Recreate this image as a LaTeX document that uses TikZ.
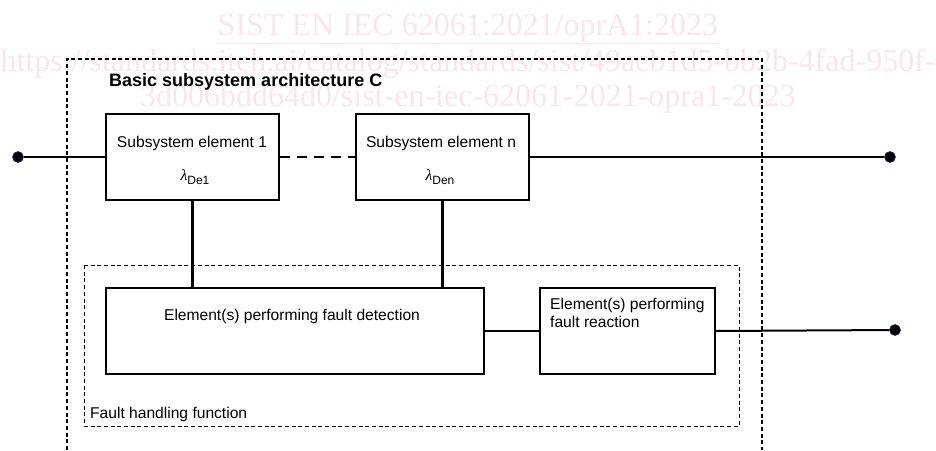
\documentclass[tikz,border=0pt]{standalone}
\usepackage{fontspec}
\setmainfont{Liberation Sans}
\newfontfamily\wmserif{Liberation Serif}
\usepackage{tikz}
\definecolor{wmpink}{RGB}{251,229,236}
\definecolor{dotblue}{RGB}{25,45,110}
\newcommand\ratelam[1]{{\wmserif\itshape λ}\raisebox{-4pt}{\fontsize{12}{12}\selectfont #1}}

\begin{document}
\begin{tikzpicture}[x=1pt,y=-1pt,
  box/.style={draw,line width=2.2pt,inner sep=0pt,minimum width=173pt,minimum height=86pt},
  wire/.style={line width=2.2pt},
  frame/.style={line width=1.1pt,dash pattern=on 4pt off 2.7pt},
  lbl/.style={inner sep=0pt,font=\fontsize{15.6}{18}\selectfont},
  pin/.style={circle,fill=black,draw=dotblue,line width=0.6pt,inner sep=0pt,minimum size=11pt},
  wm/.style={inner sep=0pt,text=wmpink,font=\wmserif\fontsize{32}{36}\selectfont}]
\useasboundingbox (0,0) rectangle (936,450);

\node[wm,anchor=base] (wm1) at (468,35) {\underline{SIST EN IEC 62061:2021/oprA1:2023}};
\node[wm,anchor=base] (wm2) at (468,71) {https://standards.iteh.ai/catalog/standards/sist/49acb1d5-bb2b-4fad-950f-};
\node[wm,anchor=base] (wm3) at (468,106) {3d006bdd64d0/sist-en-iec-62061-2021-opra1-2023};

\draw[frame] (67,450) -- (67,59) -- (762,59) -- (762,450);
\node[anchor=base west,inner sep=0pt,font=\bfseries\fontsize{18}{20}\selectfont] (title) at (109,86) {Basic subsystem architecture C};

\node[box] (se1) at (192.5,157) {};
\node[box] (sen) at (442.5,157) {};
\node[lbl,anchor=base] (se1name) at (192,147) {Subsystem element 1};
\node[lbl,anchor=base] (se1rate) at (195,180) {\ratelam{De1}};
\node[lbl,anchor=base] (senname) at (441,147) {Subsystem element n};
\node[lbl,anchor=base] (senrate) at (440,180) {\ratelam{Den}};

\draw[frame,line width=1pt] (84,265) rectangle (739,426);
\node[box,minimum width=378pt] (det) at (295,331) {};
\node[box,minimum width=175pt] (react) at (627.5,331) {};
\node[lbl,anchor=base] (detname) at (292,320) {Element(s) performing fault detection};
\node[lbl,anchor=north west,align=left] (reactname) at (550,298) {Element(s) performing\\fault reaction};
\node[lbl,anchor=base west] (fhname) at (90,418) {Fault handling function};

\node[pin] (inl) at (18,157) {};
\node[pin] (outr) at (890,157) {};
\node[pin] (outf) at (895,330) {};

\draw[wire] (inl) -- (se1.west);
\draw[wire,dash pattern=on 10pt off 7pt] (se1.east) -- (sen.west);
\draw[wire,line width=2pt] (sen.east) -- (outr);
\draw[wire] (se1.south) -- (se1.south |- det.north);
\draw[wire] (sen.south) -- (sen.south |- det.north);
\draw[wire] (det.east) -- (react.west);
\draw[wire,line width=2pt] (react.east) -- (outf);
\end{tikzpicture}
\end{document}
